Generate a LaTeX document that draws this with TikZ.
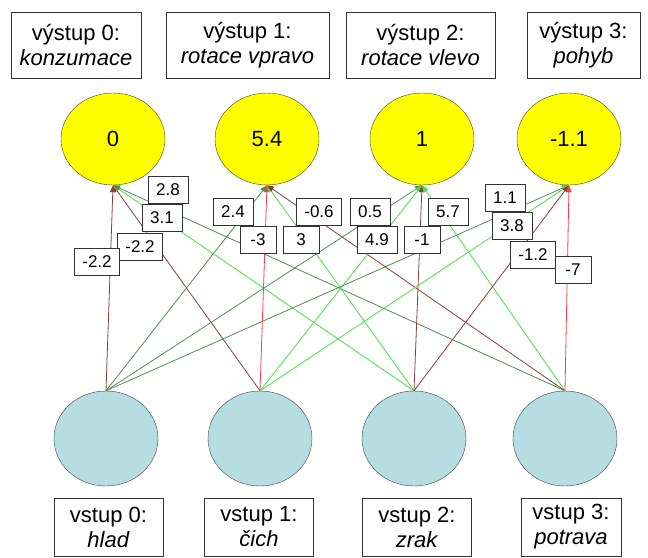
\documentclass[tikz,border=0pt]{standalone}
\usepackage{fontspec}
\setmainfont{Liberation Sans}
\usetikzlibrary{shapes.geometric}
\usetikzlibrary{arrows.meta}

\definecolor{inblue}{RGB}{182,221,226}
\definecolor{outyellow}{RGB}{255,255,0}
\definecolor{negdark}{RGB}{140,62,62}
\definecolor{negbright}{RGB}{250,60,80}
\definecolor{posdark}{RGB}{85,140,85}
\definecolor{poslight}{RGB}{70,225,70}

\begin{document}
\begin{tikzpicture}[x=1pt,y=-1pt,
    output/.style={
% The shape:
ellipse,
% The size:
minimum width=104pt, minimum height=92pt, inner sep=0pt,
% The border:
thin, draw=black!75, fill=outyellow,
font=\fontsize{22}{26}\selectfont,
},
    input/.style={
% The shape:
ellipse,
% The size:
minimum width=104pt, minimum height=95pt, inner sep=0pt,
% The border:
thin, draw=black!75, fill=inblue,
},
    caption/.style={
% The shape:
rectangle, align=center,
% The size:
minimum width=#1, minimum height=66pt, inner sep=0pt,
% The border:
thin, draw=black!80,
font=\fontsize{22}{25}\selectfont,
},
    weight/.style={
% The shape:
rectangle,
% The size:
minimum height=27pt, minimum width=36pt, inner xsep=8pt, inner ysep=0pt,
% The border:
thin, draw=black!80, fill=white,
font=\fontsize{17}{20}\selectfont,
},
    syn/.style={draw=#1, line width=0.8pt, -{Triangle[length=7pt,width=5.5pt]}},
]
  \useasboundingbox (0,0) rectangle (648,557);

  % captions of the outputs
  \node[caption=130pt] (c0) at (76,45)    {výstup 0:\\\textit{konzumace}};
  \node[caption=163pt] (c1) at (247.5,45) {výstup 1:\\\textit{rotace vpravo}};
  \node[caption=149pt] (c2) at (420.5,45) {výstup 2:\\\textit{rotace vlevo}};
  \node[caption=113pt] (c3) at (583.5,45) {výstup 3:\\\textit{pohyb}};

  % output neurons
  \node[output] (o0) at (113,139) {0};
  \node[output] (o1) at (267,139) {5.4};
  \node[output] (o2) at (422,139) {1};
  \node[output] (o3) at (569,139) {-1.1};

  % input neurons
  \node[input] (i0) at (106,438.5) {};
  \node[input] (i1) at (260,438.5) {};
  \node[input] (i2) at (414,438.5) {};
  \node[input] (i3) at (565,438.5) {};

  % captions of the inputs
  \node[caption=109pt, minimum height=58pt] (d0) at (108.5,527) {vstup 0:\\\textit{hlad}};
  \node[caption=109pt, minimum height=58pt] (d1) at (259,527)   {vstup 1:\\\textit{čich}};
  \node[caption=109pt, minimum height=58pt] (d2) at (417,527)   {vstup 2:\\\textit{zrak}};
  \node[caption=100pt, minimum height=58pt] (d3) at (571,527)   {vstup 3:\\\textit{potrava}};

  % connections
  \draw [syn=negdark]   (i0.north) -- (o0.south);
  \draw [syn=negdark]   (i1.north) -- (o0.south);
  \draw [syn=poslight]  (i2.north) -- (o0.south);
  \draw [syn=posdark]   (i3.north) -- (o0.south);

  \draw [syn=posdark]   (i0.north) -- (o1.south);
  \draw [syn=negbright] (i1.north) -- (o1.south);
  \draw [syn=poslight]  (i2.north) -- (o1.south);
  \draw [syn=negdark]   (i3.north) -- (o1.south);

  \draw [syn=posdark]   (i0.north) -- (o2.south);
  \draw [syn=poslight]  (i1.north) -- (o2.south);
  \draw [syn=negdark]   (i2.north) -- (o2.south);
  \draw [syn=poslight]  (i3.north) -- (o2.south);

  \draw [syn=posdark]   (i0.north) -- (o3.south);
  \draw [syn=poslight]  (i1.north) -- (o3.south);
  \draw [syn=negdark]   (i2.north) -- (o3.south);
  \draw [syn=negbright] (i3.north) -- (o3.south);

  % weights
  \node[weight] (w30) at (168,190) {2.8};
  \node[weight] (w20) at (162,218) {3.1};
  \node[weight] (w10) at (140,247) {-2.2};
  \node[weight] (w00) at (97,262)  {-2.2};

  \node[weight] (w01) at (233,212) {2.4};
  \node[weight] (w11) at (258,240) {-3};
  \node[weight] (w31) at (319,212) {-0.6};
  \node[weight] (w21) at (301,240) {3};

  \node[weight] (w02) at (370,212) {0.5};
  \node[weight] (w12) at (377,240) {4.9};
  \node[weight] (w22) at (422,240) {-1};
  \node[weight] (w32) at (448,212) {5.7};

  \node[weight] (w03) at (505,198) {1.1};
  \node[weight] (w13) at (512,226) {3.8};
  \node[weight] (w23) at (533,255) {-1.2};
  \node[weight] (w33) at (573,270) {-7};
\end{tikzpicture}
\end{document}
